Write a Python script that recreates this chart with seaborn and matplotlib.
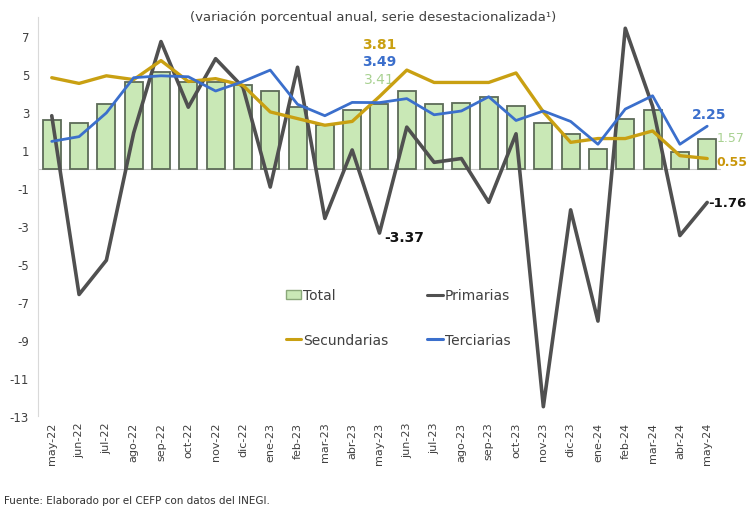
import numpy as np
import pandas as pd
import matplotlib
matplotlib.use('Agg')
import matplotlib.pyplot as plt
import seaborn as sns
from matplotlib.patches import Patch
from matplotlib.lines import Line2D

# Datos (variación porcentual anual, serie desestacionalizada)
meses = ['may-22', 'jun-22', 'jul-22', 'ago-22', 'sep-22', 'oct-22', 'nov-22', 'dic-22',
         'ene-23', 'feb-23', 'mar-23', 'abr-23', 'may-23', 'jun-23', 'jul-23', 'ago-23',
         'sep-23', 'oct-23', 'nov-23', 'dic-23', 'ene-24', 'feb-24', 'mar-24', 'abr-24', 'may-24']
total = [2.6, 2.4, 3.4, 4.6, 5.1, 4.6, 4.6, 4.4, 4.1, 3.25, 2.3, 3.1, 3.41, 4.1, 3.4,
         3.45, 3.8, 3.3, 2.4, 1.85, 1.05, 2.65, 3.1, 0.9, 1.57]
primarias = [2.8, -6.6, -4.8, 1.9, 6.7, 3.25, 5.8, 4.3, -0.95, 5.35, -2.6, 1.0, -3.37, 2.2,
             0.35, 0.55, -1.75, 1.85, -12.5, -2.15, -8.0, 7.4, 3.3, -3.5, -1.76]
secundarias = [4.8, 4.5, 4.9, 4.7, 5.7, 4.6, 4.75, 4.4, 3.0, 2.65, 2.3, 2.5, 3.81, 5.2,
               4.55, 4.55, 4.55, 5.05, 3.0, 1.4, 1.6, 1.6, 2.0, 0.7, 0.55]
terciarias = [1.45, 1.7, 2.95, 4.8, 4.9, 4.85, 4.1, 4.6, 5.2, 3.4, 2.8, 3.5, 3.49, 3.7,
              2.85, 3.05, 3.8, 2.55, 3.05, 2.5, 1.3, 3.15, 3.85, 1.3, 2.25]

df = pd.DataFrame({'mes': meses, 'Total': total, 'Primarias': primarias,
                   'Secundarias': secundarias, 'Terciarias': terciarias})
df['pos'] = np.arange(len(df))

c_bar = '#c9e8b6'
c_edge = '#5d6b58'
c_pri = '#505050'
c_sec = '#c9a012'
c_ter = '#3b6fcc'
c_tot_lbl = '#a8d191'

sns.set_style('white')
plt.rcParams['font.family'] = ['DejaVu Sans']
plt.rcParams['axes.unicode_minus'] = False

fig = plt.figure(figsize=(7.47, 5.10), dpi=100)
ax = fig.add_axes([0.051, 0.182, 0.914, 0.783])

sns.barplot(data=df, x='pos', y='Total', color=c_bar, saturation=1, width=0.66,
            edgecolor=c_edge, linewidth=1.3, ax=ax, zorder=2)
sns.lineplot(data=df, x='pos', y='Primarias', color=c_pri, lw=2.6, ax=ax, zorder=3)
sns.lineplot(data=df, x='pos', y='Secundarias', color=c_sec, lw=2.4, ax=ax, zorder=4)
sns.lineplot(data=df, x='pos', y='Terciarias', color=c_ter, lw=2.0, ax=ax, zorder=5)

ax.set_xlim(-0.5, len(meses) - 0.5)
ax.set_ylim(-13, 8)
ax.set_yticks(np.arange(-13, 8, 2))
ax.set_xticks(df['pos'])
ax.set_xticklabels(meses, rotation=90, fontsize=8, color='#404040')
ax.tick_params(axis='y', labelsize=8.5, colors='#404040', length=3, color='#d0d0d0')
ax.tick_params(axis='x', length=0, pad=4)
ax.set_xlabel('')
ax.set_ylabel('')
for s in ['top', 'right', 'bottom']:
    ax.spines[s].set_visible(False)
ax.spines['left'].set_color('#d9d9d9')
ax.axhline(0, color='#c8c8c8', lw=0.8, zorder=1)

# etiquetas de datos
i = 12
ax.annotate(f'{secundarias[i]:.2f}', (i, secundarias[i]), xytext=(0, 53), textcoords='offset pixels',
            ha='center', va='center', fontsize=10, fontweight='bold', color=c_sec)
ax.annotate(f'{terciarias[i]:.2f}', (i, terciarias[i]), xytext=(0, 42), textcoords='offset pixels',
            ha='center', va='center', fontsize=10, fontweight='bold', color=c_ter)
ax.annotate(f'{total[i]:.2f}', (i, total[i]), xytext=(0, 25), textcoords='offset pixels',
            ha='center', va='center', fontsize=10, color=c_tot_lbl)
ax.annotate(f'{primarias[i]:.2f}', (i, primarias[i]), xytext=(5, -4), textcoords='offset pixels',
            ha='left', va='center', fontsize=10, fontweight='bold', color='#111111')
j = len(meses) - 1
ax.annotate(f'{terciarias[j]:.2f}', (j, terciarias[j]), xytext=(2, 12), textcoords='offset pixels',
            ha='center', va='center', fontsize=10, fontweight='bold', color=c_ter)
ax.annotate(f'{total[j]:.2f}', (j, total[j]), xytext=(9, 2), textcoords='offset pixels',
            ha='left', va='center', fontsize=9, color=c_tot_lbl)
ax.annotate(f'{secundarias[j]:.2f}', (j, secundarias[j]), xytext=(9, -3), textcoords='offset pixels',
            ha='left', va='center', fontsize=9, fontweight='bold', color='#c9960a')
ax.annotate(f'{primarias[j]:.2f}', (j, primarias[j]), xytext=(1, 0), textcoords='offset pixels',
            ha='left', va='center', fontsize=9.5, fontweight='bold', color='#111111')

handles = [Patch(facecolor=c_bar, edgecolor='#8aa87a', lw=1),
           Line2D([], [], color=c_sec, lw=2.2),
           Line2D([], [], color=c_pri, lw=2.2),
           Line2D([], [], color=c_ter, lw=2.2)]
labels = ['Total', 'Secundarias', 'Primarias', 'Terciarias']
leg = fig.legend(handles, labels, ncol=2, loc='upper left', bbox_to_anchor=(0.366, 0.457),
                 frameon=False, fontsize=10, labelspacing=2.2, columnspacing=2.8,
                 handlelength=1.1, handletextpad=0.15)
for t in leg.get_texts():
    t.set_color('#404040')

fig.text(0.50, 0.965, '(variación porcentual anual, serie desestacionalizada¹)',
         ha='center', va='center', fontsize=9.5, color='#404040')
fig.text(0.005, 0.018, 'Fuente: Elaborado por el CEFP con datos del INEGI.',
         ha='left', va='center', fontsize=7.5, color='#303030')

fig.savefig('out.png', dpi=100)
